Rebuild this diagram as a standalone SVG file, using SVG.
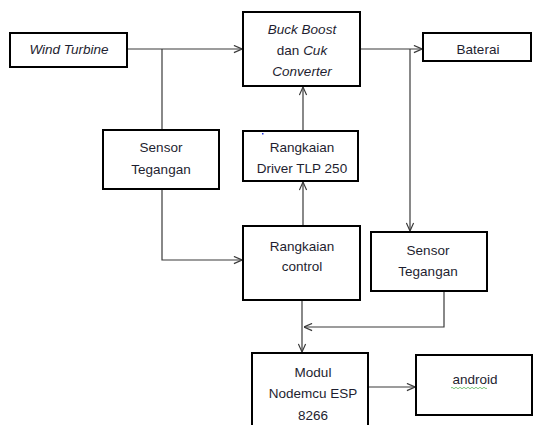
<svg xmlns="http://www.w3.org/2000/svg" width="533" height="425" viewBox="0 0 533 425">
<style>
.box{fill:#fff;stroke:#000;stroke-width:2}
.t{font-family:"Liberation Sans",Arial,sans-serif;font-size:13.5px;fill:#1e1e30;text-anchor:middle}
.i{font-style:italic}
.c{fill:none;stroke:#3a3a3a;stroke-width:1.2}
</style>
<defs>
<marker id="a" viewBox="0 0 10 10" refX="10" refY="5" markerWidth="9" markerHeight="9" markerUnits="userSpaceOnUse" orient="auto">
<path d="M1,1 L10,5 L1,9" fill="none" stroke="#3a3a3a" stroke-width="1.3"/>
</marker>
</defs>
<rect width="533" height="425" fill="#fff"/>
<g id="connectors">
<path class="c" d="M127,49 H242" marker-end="url(#a)"/>
<path class="c" d="M162,49 V130"/>
<path class="c" d="M360,49 H422" marker-end="url(#a)"/>
<path class="c" d="M410,49 V231" marker-end="url(#a)"/>
<path class="c" d="M303,131 V87" marker-end="url(#a)"/>
<path class="c" d="M162,189 V260 H242" marker-end="url(#a)"/>
<path class="c" d="M303,226 V182" marker-end="url(#a)"/>
<path class="c" d="M302,300 V352" marker-end="url(#a)"/>
<path class="c" d="M444,291 V327 H304" marker-end="url(#a)"/>
<path class="c" d="M368,387 H415" marker-end="url(#a)"/>
</g>
<g id="wind">
<rect class="box" x="10" y="33" width="117" height="34"/>
<text class="t i" x="69" y="54">Wind Turbine</text>
</g>
<g id="buck">
<rect class="box" x="243" y="12" width="117" height="74"/>
<text class="t" x="302" y="34"><tspan class="i">Buck Boost</tspan></text>
<text class="t" x="302" y="55">dan <tspan class="i">Cuk</tspan></text>
<text class="t i" x="302" y="76">Converter</text>
</g>
<g id="baterai">
<rect class="box" x="423" y="33" width="108" height="28"/>
<text class="t" x="478" y="54">Baterai</text>
</g>
<g id="sensor1">
<rect class="box" x="103" y="130" width="116" height="59"/>
<text class="t" x="161" y="152">Sensor</text>
<text class="t" x="161" y="174">Tegangan</text>
</g>
<g id="driver">
<rect class="box" x="243" y="131" width="115" height="50"/>
<rect x="262" y="133" width="1.5" height="1.5" fill="#2233dd"/>
<text class="t" x="302" y="152">Rangkaian</text>
<text class="t" x="302" y="173">Driver TLP 250</text>
</g>
<g id="control">
<rect class="box" x="243" y="226" width="117" height="74"/>
<text class="t" x="302" y="251">Rangkaian</text>
<text class="t" x="302" y="271">control</text>
</g>
<g id="sensor2">
<rect class="box" x="371" y="232" width="116" height="59"/>
<text class="t" x="428" y="255">Sensor</text>
<text class="t" x="428" y="276">Tegangan</text>
</g>
<g id="modul">
<rect class="box" x="252" y="353" width="116" height="80"/>
<text class="t" x="313" y="377">Modul</text>
<text class="t" x="313" y="398">Nodemcu ESP</text>
<text class="t" x="313" y="420">8266</text>
</g>
<g id="android">
<rect class="box" x="416" y="355" width="116" height="60"/>
<text class="t" x="475" y="384">android</text>
<path d="M451,388 q1,-1.5 2,0 t2,0 t2,0 t2,0 t2,0 t2,0 t2,0 t2,0 t2,0 t2,0 t2,0 t2,0 t2,0 t2,0 t2,0 t2,0 t2,0 t2,0" fill="none" stroke="#5cb85c" stroke-width="0.8"/>
</g>
</svg>
